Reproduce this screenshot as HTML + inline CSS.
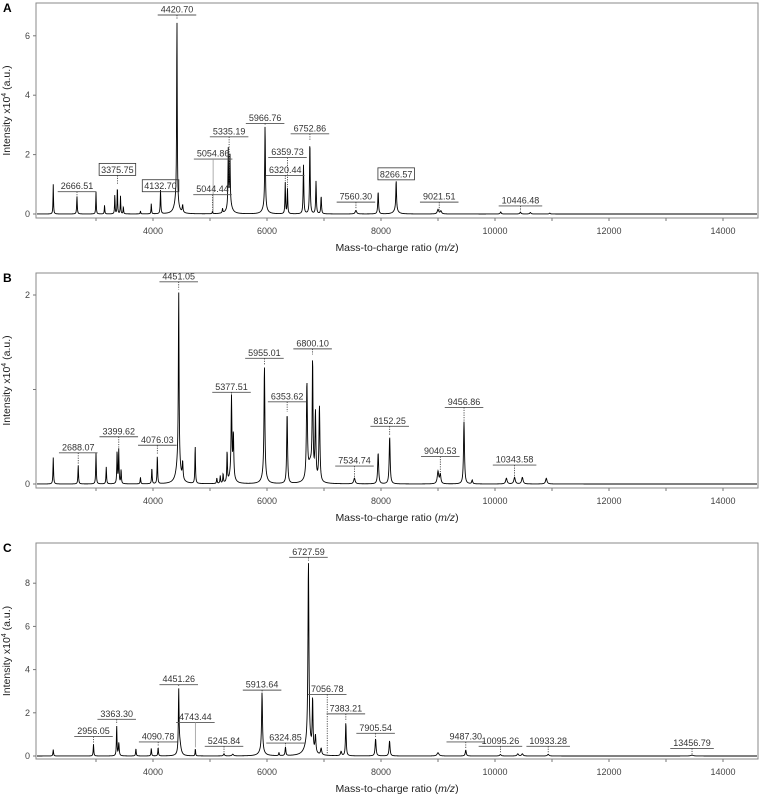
<!DOCTYPE html>
<html><head><meta charset="utf-8"><style>
html,body{margin:0;padding:0;background:#fff;}
svg{display:block;font-family:"Liberation Sans",Arial,sans-serif;}
</style></head><body>
<svg id="fig" width="761" height="799" viewBox="0 0 761 799"></svg>
<script>
// ---- Panel A data (intensity x10^4) ----
const peaksA_mz  = [2250,2666,3000,3150,3330,3375,3430,3480,3780,3970,4132,4420,4410,4520,5044,5220,5320,5350,5345,5966,5960,6320,6359,6640,6752,6860,6950,7560,7950,8266,8260,9000,9050,10100,10446,10620,10960];
const peaksA_int = [1.0,0.6,0.75,0.3,0.65,0.95,0.6,0.25,0.1,0.35,0.8,6.2,0.45,0.25,0.1,0.15,1.9,1.6,0.4,2.75,0.25,1.05,0.85,1.65,2.45,1.1,0.6,0.12,0.75,1.0,0.15,0.15,0.1,0.07,0.06,0.05,0.03];
const peaksA_w   = [5,6,5,5,5,5,5,5,5,5,6,6,40,8,5,6,6,6,40,7,40,6,6,7,7,7,7,15,8,7,40,15,15,10,12,12,10];
const labelsA_text = ["2666.51","3375.75","4132.70","4420.70","5054.86","5044.44","5335.19","5966.76","6359.73","6320.44","6752.86","7560.30","8266.57","9021.51","10446.48"];
const labelsA_mz   = [2666.51,3375.75,4132.70,4420.70,5054.86,5044.44,5335.19,5966.76,6359.73,6320.44,6752.86,7560.30,8266.57,9021.51,10446.48];
const labelsA_lvl  = [0.75,1.3,0.75,6.7,1.85,0.65,2.6,3.05,1.9,1.3,2.7,0.4,1.15,0.4,0.27];
const labelsA_box  = [0,1,1,0,0,0,0,0,0,0,0,0,1,0,0];
const labelsA_dash = [1,1,1,1,0,1,1,1,1,1,1,1,1,1,1];

// ---- Panel B data ----
const peaksB_mz  = [2250,2688,3000,3180,3370,3399,3440,3780,3980,4076,4451,4445,4520,4740,5120,5180,5230,5300,5377,5410,5380,5955,5950,6353,6700,6800,6850,6920,6760,7534,7950,8152,9000,9040,9456,9600,10200,10343,10480,10900];
const peaksB_int = [0.28,0.2,0.33,0.18,0.35,0.36,0.15,0.07,0.17,0.3,1.8,0.25,0.18,0.4,0.06,0.08,0.1,0.33,0.8,0.45,0.12,1.15,0.1,0.75,1.0,1.2,0.7,0.8,0.2,0.06,0.33,0.5,0.13,0.1,0.66,0.04,0.06,0.07,0.07,0.06];
const peaksB_w   = [6,6,6,6,6,6,6,6,6,6,7,40,8,6,6,6,6,6,8,8,40,9,40,9,10,8,9,10,50,15,10,10,15,12,10,10,15,15,15,15];
const labelsB_text = ["2688.07","3399.62","4076.03","4451.05","5377.51","5955.01","6353.62","6800.10","7534.74","8152.25","9040.53","9456.86","10343.58"];
const labelsB_mz   = [2688.07,3399.62,4076.03,4451.05,5377.51,5955.01,6353.62,6800.10,7534.74,8152.25,9040.53,9456.86,10343.58];
const labelsB_lvl  = [0.33,0.5,0.41,2.14,0.97,1.33,0.87,1.43,0.19,0.61,0.29,0.81,0.2];

// ---- Panel C data ----
const peaksC_mz  = [2250,2956,3363,3400,3700,3970,4090,4451,4470,4743,5245,5400,5913,5905,6210,6324,6727,6720,6800,6850,6950,7300,7383,7905,8150,9000,9487,10095,10400,10480,10933,13456];
const peaksC_int = [0.3,0.55,1.4,0.6,0.35,0.35,0.4,2.8,0.55,0.35,0.1,0.08,2.7,0.25,0.15,0.4,8.4,0.6,2.4,0.8,0.3,0.2,1.55,0.8,0.7,0.15,0.28,0.07,0.1,0.1,0.08,0.04];
const peaksC_w   = [6,6,6,8,6,6,6,7,25,5,10,15,9,50,6,8,10,60,8,10,12,12,8,10,10,20,10,15,15,15,15,25];
const labelsC_text = ["2956.05","3363.30","4090.78","4451.26","4743.44","5245.84","5913.64","6324.85","6727.59","7056.78","7383.21","7905.54","9487.30","10095.26","10933.28","13456.79"];
const labelsC_mz   = [2956.05,3363.30,4090.78,4451.26,4743.44,5245.84,5913.64,6324.85,6727.59,7056.78,7383.21,7905.54,9487.30,10095.26,10933.28,13456.79];
const labelsC_lvl  = [0.9,1.7,0.65,3.3,1.55,0.45,3.05,0.6,9.2,2.85,1.95,1.05,0.65,0.45,0.45,0.35];
const labelsC_dash = [1,1,1,1,0,1,1,1,1,1,1,1,1,1,1,1];

const xTicks = [3000,4000,5000,6000,7000,8000,9000,10000,11000,12000,13000,14000];
const xTickLabels = ["","4000","","6000","","8000","","10000","","12000","","14000"];

const NS="http://www.w3.org/2000/svg";
const svg=document.getElementById('fig');
function mk(tag,attrs,parent){const e=document.createElementNS(NS,tag);for(const k in attrs)e.setAttribute(k,attrs[k]);(parent||svg).appendChild(e);return e;}

const L=36,R=758;
function xScale(mz){return 153+(mz-4000)*0.0570;}

function drawPanel(cfg){
  const g=mk('g',{});
  
  
  const yScale=v=>cfg.zero-v*cfg.k;
  const fr=mk('rect',{x:L,y:cfg.top,width:R-L,height:cfg.bottom-cfg.top,fill:'none',stroke:'#8a8a8a','stroke-width':1},g);
  
  
  const lt=mk('text',{x:3,y:cfg.top+9,'font-size':12,'font-weight':'bold',fill:'#000'},g);
  lt.textContent=cfg.id;
  
  
  xTicks.forEach((t,i)=>{
    const x=xScale(t);
    mk('line',{x1:x,x2:x,y1:cfg.bottom,y2:cfg.bottom+3,stroke:'#777','stroke-width':1},g);
    if(xTickLabels[i]){
      const tx=mk('text',{x:x,y:cfg.bottom+16,'font-size':9,'text-anchor':'middle',fill:'#444'},g);
      tx.textContent=xTickLabels[i];
      
      
    }
  });
  cfg.yTicks.forEach((t,i)=>{
    const y=yScale(t);
    mk('line',{x1:L-3,x2:L,y1:y,y2:y,stroke:'#777','stroke-width':1},g);
    if(cfg.yLabels[i]!==''){
      const ty=mk('text',{x:L-6,y:y+3,'font-size':9,'text-anchor':'end',fill:'#444'},g);
      ty.textContent=cfg.yLabels[i];
      
      
    }
  });
  const xt=mk('text',{x:397,y:cfg.bottom+33,'font-size':10.5,'text-anchor':'middle',fill:'#222'},g);
  xt.innerHTML='Mass-to-charge ratio (<tspan font-style="italic">m/z</tspan>)';
  
  
  const cy=(cfg.top+cfg.bottom)/2;
  const yt=mk('text',{x:0,y:0,'font-size':10.5,'text-anchor':'middle',fill:'#222',transform:`translate(10,${cy}) rotate(-90)`},g);
  yt.innerHTML='Intensity x10<tspan dy="-4" font-size="7">4</tspan><tspan dy="4"> (a.u.)</tspan>';
  
  
  const spec=mz=>{let s=0;for(let i=0;i<cfg.mz.length;i++){const d=(mz-cfg.mz[i])/cfg.w[i];s+=cfg.int[i]/(1+d*d);}return s;};
  let d='';
  for(let px=L+1;px<=R-1;px+=0.25){
    const mz=4000+(px-153)/0.0570;
    const y=Math.max(cfg.top+1,yScale(spec(mz)));
    d+=(d?'L':'M')+px.toFixed(2)+','+y.toFixed(2);
  }
  const p=mk('path',{d:d,fill:'none',stroke:'#000','stroke-width':0.9},g);
  
  
  cfg.lt.forEach((txt,i)=>{
    const x=xScale(cfg.lmz[i]);
    const uy=yScale(cfg.llvl[i]);
    const lg=mk('g',{},g);
    
    
    const t=mk('text',{x:x,y:uy-2.5,'font-size':9,'text-anchor':'middle',fill:'#333'},lg);
    t.textContent=txt;
    const tw=t.getComputedTextLength()||36;
    const boxed=cfg.box&&cfg.box[i];
    if(boxed){
      mk('rect',{x:x-tw/2-2,y:uy-12,width:tw+4,height:12,fill:'none',stroke:'#333','stroke-width':0.8},lg);
    } else {
      mk('line',{x1:x-tw/2-3,x2:x+tw/2+3,y1:uy,y2:uy,stroke:'#555','stroke-width':0.9},lg);
    }
    const top=yScale(spec(cfg.lmz[i]))-1;
    if(top>uy+1){
      const dash=cfg.dash?cfg.dash[i]:1;
      mk('line',{x1:x,x2:x,y1:uy,y2:top,stroke:dash?'#333':'#999','stroke-width':0.8,'stroke-dasharray':dash?'1.2,1.2':'none'},lg);
    }
  });
}

drawPanel({id:'A',top:3,bottom:218,zero:214,k:29.7,yTicks:[0,2,4,6],yLabels:['0','2','4','6'],
  mz:peaksA_mz,int:peaksA_int,w:peaksA_w,lt:labelsA_text,lmz:labelsA_mz,llvl:labelsA_lvl,box:labelsA_box,dash:labelsA_dash});
drawPanel({id:'B',top:273,bottom:488,zero:484,k:94.5,yTicks:[0,1,2],yLabels:['0','','2'],
  mz:peaksB_mz,int:peaksB_int,w:peaksB_w,lt:labelsB_text,lmz:labelsB_mz,llvl:labelsB_lvl});
drawPanel({id:'C',top:543,bottom:759,zero:756,k:21.6,yTicks:[0,2,4,6,8],yLabels:['0','2','4','6','8'],
  mz:peaksC_mz,int:peaksC_int,w:peaksC_w,lt:labelsC_text,lmz:labelsC_mz,llvl:labelsC_lvl,dash:labelsC_dash});
</script>
</body></html>
